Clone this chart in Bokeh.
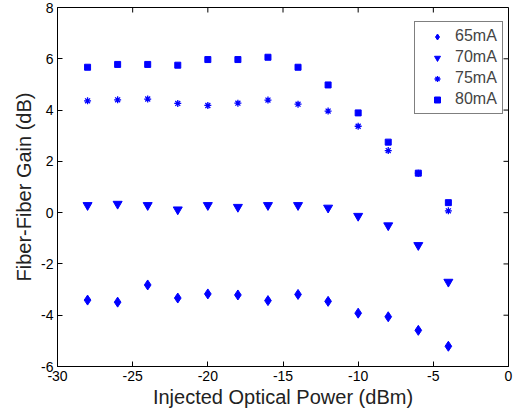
import math
from bokeh.plotting import figure
from bokeh.models import Range1d, Legend, LegendItem, FixedTicker
from bokeh.embed import file_html
from bokeh.resources import INLINE

power = [-28, -26, -24, -22, -20, -18, -16, -14, -12, -10, -8, -6, -4]
g65 = [-3.41, -3.49, -2.82, -3.33, -3.17, -3.21, -3.43, -3.19, -3.46, -3.92, -4.06, -4.59, -5.21]
g70 = [0.29, 0.34, 0.29, 0.12, 0.29, 0.22, 0.29, 0.29, 0.19, -0.13, -0.50, -1.27, -2.70]
g75 = [4.36, 4.40, 4.43, 4.26, 4.18, 4.27, 4.39, 4.23, 3.96, 3.37, 2.42, 1.54, 0.07]
g80 = [5.67, 5.78, 5.78, 5.75, 5.97, 5.97, 6.06, 5.67, 4.98, 3.89, 2.75, 1.54, 0.39]
labels = ["65mA", "70mA", "75mA", "80mA"]
xticks = [-30, -25, -20, -15, -10, -5, 0]
yticks = [-6, -4, -2, 0, 2, 4, 6, 8]
XMIN, XMAX, YMIN, YMAX = -30, 0, -6, 8

FONT = "Liberation Sans"
BLUE = "#0000ff"

p = figure(width=513, height=410, output_backend="svg", toolbar_location=None,
           x_range=Range1d(XMIN, XMAX), y_range=Range1d(YMIN, YMAX),
           min_border_left=57, min_border_right=5, min_border_top=7, min_border_bottom=0)
p.background_fill_color = "white"
p.border_fill_color = "white"
p.outline_line_color = "black"
p.outline_line_width = 1
p.xgrid.visible = False
p.ygrid.visible = False

r65 = p.scatter(power, g65, marker="diamond", size=10, color=BLUE)
r70 = p.scatter(power, g70, marker="inverted_triangle", size=9, color=BLUE)
r75 = p.scatter(power, g75, marker="asterisk", size=7, line_color=BLUE, line_width=1.3)
r80 = p.scatter(power, g80, marker="square", size=6, color=BLUE)

# inward ticks on the top and right edges of the box
p.ray(x=xticks, y=[YMAX] * len(xticks), length=5, angle=-math.pi / 2,
      length_units="screen", line_color="black", line_width=1)
p.ray(x=[XMAX] * len(yticks), y=yticks, length=5, angle=math.pi,
      length_units="screen", line_color="black", line_width=1)

for ax, ticks in ((p.xaxis[0], xticks), (p.yaxis[0], yticks)):
    ax.ticker = FixedTicker(ticks=ticks)
    ax.major_label_overrides = {t: str(t) for t in ticks}
    ax.major_tick_in = 5
    ax.major_tick_out = 0
    ax.minor_tick_in = 0
    ax.minor_tick_out = 0
    ax.axis_line_color = "black"
    ax.major_tick_line_color = "black"
    ax.major_label_text_font = FONT
    ax.major_label_text_color = "black"
    ax.major_label_text_font_size = "14px"
    ax.major_label_standoff = 4
    ax.axis_label_text_font = FONT
    ax.axis_label_text_font_size = "20px"
    ax.axis_label_text_font_style = "normal"
    ax.axis_label_text_color = "#222222"

p.xaxis[0].axis_label = "Injected Optical Power (dBm)"
p.yaxis[0].axis_label = "Fiber-Fiber Gain (dB)"
p.xaxis[0].axis_label_standoff = 2
p.yaxis[0].axis_label_standoff = 3

legend = Legend(items=[LegendItem(label=l, renderers=[r]) for l, r in zip(labels, [r65, r70, r75, r80])],
                location=(357, 252))
legend.border_line_color = "black"
legend.border_line_width = 1
legend.background_fill_alpha = 1
legend.label_text_font = FONT
legend.label_text_font_size = "16px"
legend.padding = 4
legend.spacing = 1
legend.glyph_width = 36
legend.glyph_height = 15
legend.label_height = 20
legend.label_standoff = 0
legend.label_width = 43
legend.margin = 0
p.add_layout(legend, "center")

open("out.html", "w").write(file_html(p, INLINE))
